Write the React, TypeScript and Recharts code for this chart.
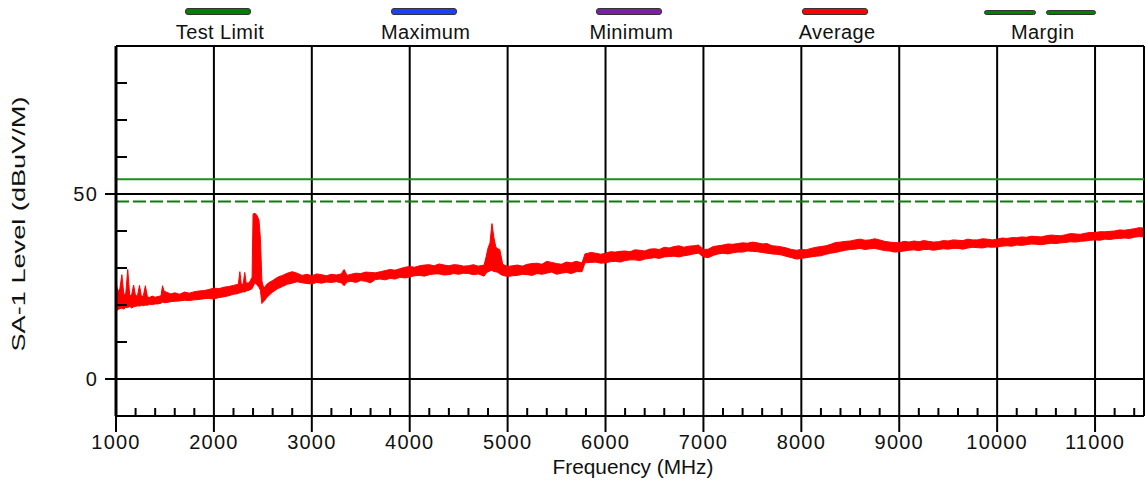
import React from 'react';
import {
  ComposedChart,
  Area,
  XAxis,
  YAxis,
  CartesianGrid,
  ReferenceLine,
} from 'recharts';

const avgFreq = [
  1000, 1020, 1040, 1060, 1080, 1100, 1120, 1140, 1160, 1180,
  1200, 1220, 1240, 1260, 1280, 1300, 1320, 1340, 1370, 1400,
  1430, 1460, 1475, 1490, 1520, 1560, 1600, 1650, 1700, 1750,
  1800, 1850, 1900, 1950, 2000, 2050, 2100, 2150, 2200, 2250,
  2265, 2280, 2300, 2315, 2330, 2360, 2390, 2400, 2420, 2440,
  2460, 2475, 2490, 2510, 2540, 2570, 2600, 2650, 2700, 2750,
  2800, 2850, 2900, 2950, 3000, 3050, 3100, 3150, 3200, 3250,
  3300, 3330, 3360, 3400, 3450, 3500, 3550, 3600, 3650, 3700,
  3750, 3800, 3850, 3900, 3950, 4000, 4050, 4100, 4150, 4200,
  4250, 4300, 4350, 4400, 4450, 4500, 4550, 4600, 4650, 4700,
  4760, 4780, 4800, 4820, 4840, 4860, 4880, 4900, 4920, 4950,
  5000, 5050, 5100, 5150, 5200, 5250, 5300, 5350, 5400, 5450,
  5500, 5550, 5600, 5650, 5700, 5760, 5790, 5850, 5900, 5950,
  6000, 6050, 6100, 6150, 6200, 6250, 6300, 6350, 6400, 6450,
  6500, 6550, 6600, 6650, 6700, 6750, 6800, 6850, 6900, 6950,
  7000, 7050, 7100, 7150, 7200, 7250, 7300, 7350, 7400, 7450,
  7500, 7550, 7600, 7650, 7700, 7750, 7800, 7850, 7900, 7950,
  8000, 8050, 8100, 8150, 8200, 8250, 8300, 8350, 8400, 8450,
  8500, 8550, 8600, 8650, 8700, 8750, 8800, 8850, 8900, 8950,
  9000, 9050, 9100, 9150, 9200, 9250, 9300, 9350, 9400, 9450,
  9500, 9550, 9600, 9650, 9700, 9750, 9800, 9850, 9900, 9950,
  10000, 10050, 10100, 10150, 10200, 10250, 10300, 10350, 10400, 10450,
  10500, 10550, 10600, 10650, 10700, 10750, 10800, 10850, 10900, 10950,
  11000, 11050, 11100, 11150, 11200, 11250, 11300, 11350, 11400, 11450,
  11500,
];
const avgLow = [
  18.2, 18.8, 19.0, 19.2, 18.9, 19.4, 19.3, 19.6, 19.2, 19.5,
  19.6, 19.8, 19.7, 19.9, 19.8, 20.0, 19.9, 20.2, 20.1, 20.3,
  20.3, 20.5, 20.8, 20.6, 20.7, 20.9, 21.0, 21.1, 21.3, 21.2,
  21.4, 21.5, 21.7, 21.8, 21.6, 22.0, 22.2, 22.5, 22.9, 23.1,
  23.3, 23.4, 23.6, 23.5, 23.8, 24.0, 24.4, 25.0, 26.0, 25.5,
  24.8, 24.0, 20.4, 21.0, 22.0, 22.8, 23.5, 24.4, 25.0, 25.6,
  25.9, 26.3, 26.0, 25.8, 25.7, 26.1, 25.9, 26.2, 26.1, 26.3,
  26.0, 25.2, 26.2, 26.4, 26.1, 26.6, 26.4, 26.0, 26.9, 27.0,
  26.8, 27.2, 27.0, 27.5, 27.3, 27.6, 27.9, 28.0, 27.8, 28.2,
  28.4, 28.4, 28.1, 28.2, 28.5, 28.3, 28.6, 28.5, 28.2, 28.4,
  27.8, 28.6, 29.0, 29.2, 29.4, 29.0, 29.0, 28.8, 28.4, 28.0,
  27.7, 27.9, 28.0, 28.3, 28.2, 28.0, 28.5, 28.3, 28.6, 28.9,
  28.3, 28.6, 28.8, 28.5, 29.0, 29.0, 31.4, 31.5, 31.6, 31.3,
  31.4, 31.7, 31.8, 31.6, 32.0, 32.2, 32.2, 32.0, 32.4, 32.6,
  32.8, 32.6, 33.0, 33.1, 33.2, 33.0, 33.3, 33.5, 33.8, 34.0,
  33.0, 32.8, 33.4, 33.8, 34.0, 33.8, 34.1, 34.3, 34.3, 34.6,
  34.5, 34.4, 34.2, 34.0, 33.8, 33.7, 33.5, 33.1, 32.8, 32.4,
  32.6, 32.8, 33.0, 33.2, 33.3, 33.7, 34.0, 34.2, 34.5, 34.8,
  35.0, 35.1, 35.3, 35.0, 35.2, 35.3, 35.0, 34.7, 34.6, 34.3,
  34.4, 34.6, 34.8, 34.9, 34.7, 35.0, 35.0, 34.8, 35.0, 35.2,
  35.1, 35.3, 35.3, 35.1, 35.4, 35.6, 35.5, 35.4, 35.7, 35.6,
  35.7, 35.9, 36.0, 35.9, 36.2, 36.1, 36.3, 36.5, 36.4, 36.3,
  36.5, 36.7, 36.6, 36.8, 36.9, 37.1, 37.0, 37.2, 37.3, 37.5,
  37.6, 37.5, 37.8, 37.7, 37.9, 38.0, 38.1, 38.0, 38.3, 38.5,
  38.4,
];
const avgHigh = [
  26.0, 23.5, 24.5, 28.2, 22.8, 23.2, 29.6, 22.5, 22.8, 25.4,
  22.4, 22.6, 25.3, 22.2, 22.6, 25.2, 22.3, 22.0, 22.4, 22.1,
  22.3, 22.5, 25.2, 23.8, 23.4, 23.0, 23.3, 22.9, 23.5, 23.2,
  23.6, 23.8, 23.9, 24.2, 24.6, 24.4, 24.8, 25.0, 25.3, 25.6,
  29.0, 25.5, 25.8, 28.8, 25.9, 26.0, 27.5, 44.6, 44.8, 44.2,
  43.0, 38.0, 26.5, 24.5, 25.6, 26.2, 26.6, 27.5, 28.0, 28.6,
  29.0, 28.6, 28.0, 28.3, 27.9, 28.4, 28.2, 27.9, 28.3, 28.1,
  28.4, 29.6, 28.0, 28.3, 28.6, 28.5, 28.9, 28.8, 28.7, 29.0,
  29.3, 29.6, 29.4, 29.8, 30.2, 30.4, 30.2, 30.6, 30.8, 30.9,
  30.6, 31.1, 30.8, 30.6, 30.9, 30.8, 30.5, 30.6, 30.9, 30.5,
  30.8, 33.0, 35.4, 36.8, 42.0, 38.2, 35.6, 35.2, 35.0, 31.0,
  30.4, 30.6, 30.8, 30.5, 31.0, 31.2, 31.3, 31.0, 31.8, 31.5,
  31.2, 31.0, 31.6, 31.4, 31.8, 31.4, 33.8, 34.2, 34.0, 33.7,
  34.0, 34.4, 34.3, 34.5, 34.6, 34.4, 34.9, 34.8, 34.6, 35.1,
  35.2, 35.0, 35.6, 35.4, 35.8, 36.0, 35.6, 35.9, 36.0, 36.2,
  35.0, 35.1, 35.8, 36.0, 36.2, 36.5, 36.4, 36.6, 36.8, 36.7,
  37.0, 36.8, 36.5, 36.6, 36.0, 35.9, 35.7, 35.4, 35.0, 34.8,
  35.0, 34.9, 35.3, 35.6, 35.8, 36.0, 36.4, 36.9, 37.0, 37.2,
  37.3, 37.6, 37.8, 37.5, 37.6, 37.9, 37.6, 37.2, 37.0, 36.9,
  36.8, 37.2, 37.0, 37.3, 37.1, 37.4, 37.2, 37.0, 37.1, 37.4,
  37.3, 37.6, 37.5, 37.4, 37.8, 37.6, 37.6, 37.9, 37.8, 37.6,
  37.8, 38.1, 38.0, 38.2, 38.2, 38.4, 38.3, 38.6, 38.5, 38.4,
  38.7, 38.9, 38.8, 38.7, 39.0, 39.3, 39.2, 39.1, 39.4, 39.6,
  39.6, 39.8, 39.8, 39.9, 40.0, 40.3, 40.2, 40.4, 40.6, 40.9,
  40.8,
];

const xTicks = [1000, 2000, 3000, 4000, 5000, 6000, 7000, 8000, 9000, 10000, 11000];
const xMinorTicks = [
  1000, 1200, 1400, 1600, 1800, 2000, 2200, 2400, 2600, 2800,
  3000, 3200, 3400, 3600, 3800, 4000, 4200, 4400, 4600, 4800,
  5000, 5200, 5400, 5600, 5800, 6000, 6200, 6400, 6600, 6800,
  7000, 7200, 7400, 7600, 7800, 8000, 8200, 8400, 8600, 8800,
  9000, 9200, 9400, 9600, 9800, 10000, 10200, 10400, 10600, 10800,
  11000, 11200, 11400,
];
const yTicks = [0, 50];
const yMinorTicks = [-10, 0, 10, 20, 30, 40, 50, 60, 70, 80, 90];
const xDomain = [1000, 11500];
const yDomain = [-10, 90];
const testLimit = 54;
const marginLimit = 48;

const legendNames = ['Test Limit', 'Maximum', 'Minimum', 'Average', 'Margin'];
const legendColors = ['#008000', '#1f3cff', '#7d1fa5', '#ff0000', '#008000'];

const chartData = avgFreq.map((f, i) => ({ freq: f, avg: [avgLow[i], avgHigh[i]] }));

const FONT = '"Liberation Sans", Arial, sans-serif';
const INK = '#111';

// tick geometry: major ticks point out, minor ticks point into the plot
const X_TICK = 16;
const X_GAP = 3;
const X_MINOR = 8;
const Y_TICK = 11;
const Y_GAP = 7;
const Y_MINOR = 11;

const FreqTick = (props: any) => {
  const { x, y, payload } = props;
  const axisY = y - X_TICK - X_GAP;
  const major = xTicks.includes(payload.value);
  return (
    <g>
      <line
        x1={x}
        x2={x}
        y1={axisY}
        y2={major ? axisY + X_TICK : axisY - X_MINOR}
        stroke="#000"
        strokeWidth={2}
      />
      {major && (
        <text
          x={x}
          y={y}
          dy="0.71em"
          textAnchor="middle"
          fontSize={20}
          fontFamily={FONT}
          fill={INK}
          letterSpacing={1.2}
        >
          {payload.value}
        </text>
      )}
    </g>
  );
};

const LevelTick = (props: any) => {
  const { x, y, payload } = props;
  const axisX = x + Y_TICK + Y_GAP;
  const major = yTicks.includes(payload.value);
  return (
    <g>
      <line x1={axisX} x2={axisX + Y_MINOR} y1={y} y2={y} stroke="#000" strokeWidth={2} />
      {major && (
        <>
          <line x1={axisX - Y_TICK} x2={axisX} y1={y} y2={y} stroke="#000" strokeWidth={2} />
          <text
            x={x}
            y={y}
            dy="0.36em"
            textAnchor="end"
            fontSize={20}
            fontFamily={FONT}
            fill={INK}
            letterSpacing={1.2}
          >
            {payload.value}
          </text>
        </>
      )}
    </g>
  );
};

const swatchStyle = (color: string, left: number, width: number, top: number, h: number) => ({
  position: 'absolute' as const,
  left,
  top,
  width,
  height: h,
  background: color,
  border: '1.5px solid #333',
  borderRadius: 3,
});

const TopLegend = () => (
  <>
    {legendNames.map((name, i) => {
      const cx = 220 + i * 205.7;
      const isMargin = name === 'Margin';
      return (
        <React.Fragment key={name}>
          {isMargin ? (
            <>
              <div style={swatchStyle(legendColors[i], cx - 59, 50, 10, 3)} />
              <div style={swatchStyle(legendColors[i], cx + 3, 48, 10, 3)} />
            </>
          ) : (
            <div style={swatchStyle(legendColors[i], cx - 35, 64, 8, 5)} />
          )}
          <div
            style={{
              position: 'absolute',
              left: cx - 80,
              top: 22,
              width: 160,
              textAlign: 'center',
              fontSize: 20,
              lineHeight: '20px',
              letterSpacing: 0.4,
              color: INK,
            }}
          >
            {name}
          </div>
        </React.Fragment>
      );
    })}
  </>
);

export default function App() {
  return (
    <div
      style={{
        position: 'absolute',
        left: 0,
        top: 0,
        width: 1146,
        height: 484,
        background: '#fff',
        fontFamily: FONT,
      }}
    >
      <TopLegend />
      <ComposedChart
        width={1146}
        height={484}
        data={chartData}
        margin={{ top: 46, right: 2, bottom: 38, left: 56 }}
      >
        <CartesianGrid
          stroke="#000"
          strokeWidth={2}
          verticalValues={xTicks}
          horizontalValues={yTicks}
        />
        <XAxis
          dataKey="freq"
          type="number"
          domain={xDomain}
          ticks={xMinorTicks}
          interval={0}
          height={30}
          tickSize={X_TICK}
          tickMargin={X_GAP}
          axisLine={{ stroke: '#000', strokeWidth: 2 }}
          tickLine={false}
          tick={<FreqTick />}
          label={{
            content: () => (
              <text
                x={633}
                y={474}
                textAnchor="middle"
                fontSize={20}
                fontFamily={FONT}
                fill={INK}
                textLength={161}
                lengthAdjust="spacingAndGlyphs"
              >
                Frequency (MHz)
              </text>
            ),
          }}
        />
        <YAxis
          type="number"
          domain={yDomain}
          ticks={yMinorTicks}
          interval={0}
          width={60}
          tickSize={Y_TICK}
          tickMargin={Y_GAP}
          axisLine={{ stroke: '#000', strokeWidth: 3 }}
          tickLine={false}
          tick={<LevelTick />}
          label={{
            content: () => (
              <text
                x={25}
                y={224}
                transform="rotate(-90 25 224)"
                textAnchor="middle"
                fontSize={19}
                fontFamily={FONT}
                fill={INK}
                textLength={255}
                lengthAdjust="spacingAndGlyphs"
              >
                SA-1 Level (dBuV/M)
              </text>
            ),
          }}
        />
        <ReferenceLine y={yDomain[1]} stroke="#000" strokeWidth={2} />
        <ReferenceLine x={xDomain[1]} stroke="#000" strokeWidth={2} />
        <ReferenceLine y={testLimit} stroke="#1a8f1a" strokeWidth={2} />
        <ReferenceLine y={marginLimit} stroke="#0a7f0a" strokeWidth={2} strokeDasharray="13 4" />
        <Area
          dataKey="avg"
          type="linear"
          stroke="#ff0000"
          strokeWidth={1}
          fill="#ff0000"
          fillOpacity={1}
          dot={false}
          activeDot={false}
          isAnimationActive={false}
        />
      </ComposedChart>
    </div>
  );
}
